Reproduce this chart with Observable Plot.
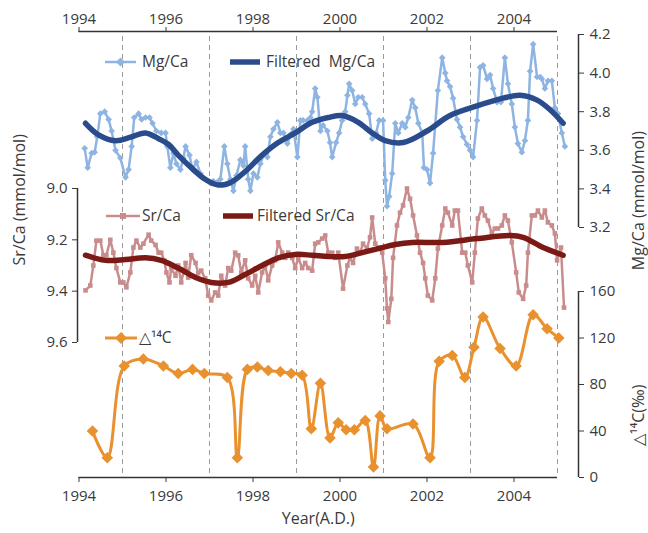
<!DOCTYPE html>
<html><head><meta charset="utf-8">
<script src="https://cdn.jsdelivr.net/npm/d3@7"></script>
<script src="https://cdn.jsdelivr.net/npm/@observablehq/plot@0.6"></script>
<style>
body{margin:0;background:#fff;}
#chart{position:relative;width:648px;height:533px;font-family:"Open Sans",sans-serif;}
#chart svg{position:absolute;left:0;top:0;}
</style></head><body><div id="chart"></div>
<script>
// ---- data (year, value) ----
const mgCa = [
[1994.13,3.61],[1994.20,3.51],[1994.29,3.585],[1994.36,3.59],[1994.42,3.67],[1994.49,3.79],[1994.59,3.80],[1994.68,3.76],[1994.75,3.70],[1994.84,3.60],[1994.95,3.56],
[1995.07,3.46],[1995.14,3.50],[1995.21,3.62],[1995.27,3.77],[1995.37,3.79],[1995.44,3.76],[1995.53,3.77],[1995.62,3.77],[1995.69,3.74],[1995.78,3.70],[1995.89,3.69],[1995.99,3.69],
[1996.03,3.62],[1996.10,3.51],[1996.17,3.585],[1996.24,3.53],[1996.33,3.50],[1996.40,3.56],[1996.45,3.62],[1996.54,3.575],[1996.61,3.50],[1996.70,3.54],[1996.79,3.48],[1996.86,3.455],[1996.93,3.445],
[1997.02,3.43],[1997.09,3.44],[1997.18,3.435],[1997.25,3.45],[1997.34,3.62],[1997.41,3.53],[1997.48,3.45],[1997.55,3.39],[1997.62,3.47],[1997.71,3.55],[1997.78,3.52],[1997.82,3.62],[1997.89,3.45],[1997.94,3.39],
[1998.01,3.48],[1998.10,3.46],[1998.17,3.53],[1998.24,3.575],[1998.33,3.565],[1998.40,3.67],[1998.47,3.71],[1998.56,3.745],[1998.63,3.69],[1998.70,3.69],[1998.79,3.635],[1998.86,3.68],[1998.93,3.71],
[1999.02,3.565],[1999.09,3.755],[1999.15,3.755],[1999.25,3.755],[1999.32,3.77],[1999.36,3.80],[1999.43,3.92],[1999.48,3.875],[1999.55,3.70],[1999.61,3.73],[1999.71,3.70],[1999.77,3.64],[1999.82,3.565],[1999.91,3.64],[1999.98,3.69],
[2000.05,3.755],[2000.12,3.80],[2000.17,3.885],[2000.21,3.945],[2000.28,3.91],[2000.35,3.84],[2000.42,3.875],[2000.51,3.875],[2000.58,3.84],[2000.67,3.79],[2000.74,3.66],[2000.83,3.69],[2000.90,3.755],[2000.99,3.755],
[2001.04,3.445],[2001.08,3.31],[2001.13,3.36],[2001.20,3.48],[2001.27,3.74],[2001.34,3.69],[2001.43,3.74],[2001.50,3.72],[2001.57,3.77],[2001.66,3.86],[2001.73,3.82],[2001.80,3.74],[2001.89,3.69],[2001.93,3.51],
[2002.00,3.50],[2002.07,3.43],[2002.14,3.585],[2002.25,3.91],[2002.35,4.08],[2002.42,4.00],[2002.46,3.96],[2002.53,3.93],[2002.60,3.87],[2002.69,3.76],[2002.76,3.72],[2002.83,3.67],[2002.92,3.63],[2002.99,3.60],
[2003.06,3.565],[2003.15,3.755],[2003.22,4.03],[2003.29,4.04],[2003.38,3.97],[2003.45,3.99],[2003.52,3.92],[2003.61,3.85],[2003.70,3.85],[2003.79,4.08],[2003.86,3.945],[2003.95,3.84],
[2004.02,3.72],[2004.09,3.635],[2004.18,3.59],[2004.25,3.65],[2004.32,3.755],[2004.37,4.01],[2004.44,4.15],[2004.53,3.98],[2004.60,3.98],[2004.64,3.97],[2004.71,3.92],[2004.78,3.96],[2004.87,3.96],[2004.94,3.82],
[2005.01,3.79],[2005.10,3.69],[2005.17,3.62]
];
const mgCaFiltered = [
[1994.15,3.74],[1994.45,3.68],[1994.84,3.65],[1995.21,3.67],[1995.53,3.69],[1995.83,3.66],[1996.06,3.63],[1996.28,3.575],[1996.58,3.51],[1996.90,3.45],
[1997.20,3.42],[1997.50,3.435],[1997.82,3.49],[1998.21,3.575],[1998.58,3.64],[1998.97,3.69],[1999.36,3.745],[1999.73,3.77],[2000.05,3.78],[2000.42,3.745],
[2000.74,3.69],[2001.04,3.65],[2001.45,3.64],[2002.00,3.70],[2002.53,3.78],[2003.15,3.83],[2003.75,3.87],[2004.14,3.885],[2004.53,3.86],[2004.83,3.81],[2005.13,3.74]
];
const srCa = [
[1994.15,9.397],[1994.26,9.378],[1994.33,9.30],[1994.40,9.203],[1994.49,9.203],[1994.56,9.26],[1994.63,9.26],[1994.72,9.20],[1994.79,9.25],[1994.86,9.31],[1994.95,9.366],
[1995.02,9.366],[1995.09,9.385],[1995.18,9.327],[1995.25,9.23],[1995.32,9.203],[1995.41,9.23],[1995.48,9.215],[1995.60,9.18],[1995.66,9.203],[1995.76,9.22],[1995.83,9.25],[1995.89,9.25],[1995.96,9.28],
[1996.01,9.327],[1996.08,9.366],[1996.12,9.31],[1996.22,9.34],[1996.28,9.30],[1996.35,9.366],[1996.45,9.29],[1996.51,9.347],[1996.58,9.26],[1996.68,9.29],[1996.74,9.33],[1996.81,9.32],[1996.90,9.35],[1996.97,9.417],
[1997.04,9.436],[1997.13,9.405],[1997.20,9.417],[1997.27,9.34],[1997.36,9.378],[1997.43,9.31],[1997.50,9.32],[1997.59,9.25],[1997.66,9.26],[1997.73,9.327],[1997.82,9.28],[1997.89,9.35],[1997.98,9.378],
[1998.05,9.34],[1998.12,9.405],[1998.21,9.327],[1998.28,9.30],[1998.35,9.358],[1998.44,9.30],[1998.51,9.28],[1998.58,9.21],[1998.67,9.25],[1998.74,9.27],[1998.81,9.25],[1998.90,9.27],[1998.97,9.31],
[1999.04,9.27],[1999.13,9.31],[1999.20,9.29],[1999.27,9.31],[1999.36,9.32],[1999.43,9.215],[1999.50,9.21],[1999.59,9.195],[1999.66,9.183],[1999.73,9.25],[1999.82,9.25],[1999.89,9.27],[1999.96,9.25],
[2000.07,9.39],[2000.17,9.30],[2000.23,9.27],[2000.30,9.29],[2000.39,9.234],[2000.46,9.25],[2000.53,9.215],[2000.62,9.234],[2000.69,9.19],[2000.74,9.113],[2000.81,9.215],[2000.88,9.23],[2000.97,9.25],
[2001.04,9.35],[2001.08,9.467],[2001.11,9.52],[2001.18,9.43],[2001.22,9.27],[2001.31,9.144],[2001.38,9.094],[2001.45,9.066],[2001.54,9.00],[2001.61,9.04],[2001.68,9.105],[2001.77,9.183],[2001.84,9.25],[2001.91,9.29],[2001.96,9.35],
[2002.02,9.417],[2002.12,9.436],[2002.19,9.35],[2002.25,9.234],[2002.35,9.144],[2002.42,9.078],[2002.48,9.094],[2002.58,9.144],[2002.64,9.086],[2002.71,9.086],[2002.81,9.25],[2002.88,9.25],[2002.94,9.30],
[2003.04,9.366],[2003.10,9.25],[2003.17,9.117],[2003.26,9.078],[2003.33,9.105],[2003.40,9.125],[2003.49,9.175],[2003.56,9.156],[2003.63,9.156],[2003.72,9.144],[2003.79,9.105],[2003.86,9.125],[2003.95,9.21],
[2004.05,9.327],[2004.11,9.405],[2004.21,9.43],[2004.28,9.378],[2004.32,9.25],[2004.41,9.105],[2004.48,9.105],[2004.55,9.086],[2004.64,9.113],[2004.71,9.086],[2004.78,9.132],[2004.87,9.144],[2004.94,9.175],[2004.99,9.28],
[2005.08,9.23],[2005.15,9.464]
];
const srCaFiltered = [
[1994.15,9.26],[1994.61,9.28],[1995.07,9.277],[1995.53,9.27],[1995.89,9.28],[1996.28,9.31],[1996.68,9.347],[1997.04,9.366],[1997.43,9.366],[1997.82,9.335],
[1998.21,9.30],[1998.58,9.27],[1998.97,9.257],[1999.36,9.26],[1999.73,9.265],[2000.12,9.265],[2000.51,9.25],[2000.88,9.234],[2001.27,9.218],[2001.66,9.21],
[2002.37,9.21],[2003.15,9.195],[2003.91,9.183],[2004.21,9.19],[2004.67,9.23],[2005.13,9.26]
];
const d14C = [
[1994.31,40],[1994.65,17],[1995.04,96],[1995.48,102],[1995.94,96],[1996.28,89.5],[1996.61,93],[1996.88,89.5],[1997.41,86],[1997.64,17],
[1997.87,93],[1998.10,95],[1998.35,92],[1998.63,91],[1998.88,89.5],[1999.13,88],[1999.34,42],[1999.55,81],[1999.77,34],[1999.96,47],
[2000.14,41],[2000.33,41],[2000.58,49],[2000.77,9],[2000.92,53],[2001.08,42],[2001.68,46],[2002.07,17],[2002.28,100],[2002.58,105],
[2002.87,86],[2003.08,112],[2003.29,138],[2003.68,111],[2004.05,96],[2004.44,140],[2004.76,128],[2005.03,120]
];
const yearTicks = [1994, 1996, 1998, 2000, 2002, 2004];
const gridYears = [1995, 1997, 1999, 2001, 2003, 2005];
const mgTicks = [3.2, 3.4, 3.6, 3.8, 4.0, 4.2];
const srTicks = [9.0, 9.2, 9.4, 9.6];
const c14Ticks = [0, 40, 80, 120, 160];

// ---- styling ----
const W = 648, H = 533;
const XR = [78.5, 557];
const C = {mg:"#8DB4E2", mgF:"#2B4C8C", sr:"#C98C8D", srF:"#7B1A14", c14:"#E8912E", axis:"#333333", grid:"#9A9A9A"};
const baseStyle = {background:"none", fontFamily:"'Open Sans', sans-serif", fontSize:"15px", color:"#3A3A3A", overflow:"visible"};
const row = d => ({t: d[0], v: d[1]});
const chart = document.getElementById("chart");

// layer D: grid + x axes
chart.append(Plot.plot({
  width: W, height: H, marginLeft: 78.5, marginRight: 91, marginTop: 31, marginBottom: 56,
  style: baseStyle,
  x: {domain: [1994, 2005], range: XR, label: null},
  y: {domain: [0, 1], axis: null},
  marks: [
    Plot.ruleX(gridYears, {stroke: C.grid, strokeDasharray: "5,4", strokeWidth: 1, insetTop: 5}),
    Plot.ruleY([0, 1], {stroke: C.axis, strokeWidth: 1.5}),
    Plot.axisX({anchor: "bottom", ticks: yearTicks, tickFormat: "d", tickSize: 5, tickPadding: 8, label: null}),
    Plot.axisX({anchor: "top", ticks: yearTicks, tickFormat: "d", tickSize: 5, tickPadding: 3, label: null}),
    Plot.text(["Year(A.D.)"], {frameAnchor: "bottom", dy: 46, fontSize: 16})
  ]
}));

// layer C: Δ14C
const c14Data = d14C.map(row);
chart.append(Plot.plot({
  width: W, height: H, marginLeft: 78.5, marginRight: 70, marginTop: 291, marginBottom: 56,
  style: baseStyle,
  x: {domain: [1994, 2005], range: XR, axis: null},
  y: {domain: [0, 160], label: null},
  marks: [
    Plot.line(c14Data, {x: "t", y: "v", stroke: C.c14, strokeWidth: 3, curve: "catmull-rom"}),
    Plot.dot(c14Data, {x: "t", y: "v", symbol: "diamond2", r: 5.2, fill: C.c14, stroke: "none"}),
    Plot.ruleX([2005], {y1: 0, y2: 160, dx: 21, stroke: C.axis, strokeWidth: 1.5}),
    Plot.axisY({anchor: "right", ticks: c14Ticks, tickFormat: "d", tickSize: 5, tickPadding: 6, label: null}),
    Plot.text(["△¹⁴C(‰)"], {frameAnchor: "right", rotate: -90, dx: 60, fontSize: 16})
  ]
}));

// layer B: Sr/Ca
const srData = srCa.map(row), srFData = srCaFiltered.map(row);
chart.append(Plot.plot({
  width: W, height: H, marginLeft: 77, marginRight: 91, marginTop: 188, marginBottom: 191,
  style: baseStyle,
  x: {domain: [1994, 2005], range: XR, axis: null},
  y: {domain: [9.0, 9.6], range: [188, 342], label: null},
  marks: [
    Plot.line(srData, {x: "t", y: "v", stroke: C.sr, strokeWidth: 2.5}),
    Plot.dot(srData, {x: "t", y: "v", symbol: "square", r: 2.6, fill: C.sr, stroke: "none"}),
    Plot.line(srFData, {x: "t", y: "v", stroke: C.srF, strokeWidth: 5.5, curve: "catmull-rom"}),
    Plot.ruleX([1994], {y1: 9.0, y2: 9.6, dx: -1.5, stroke: C.axis, strokeWidth: 1.5}),
    Plot.axisY({anchor: "left", ticks: srTicks, tickFormat: ".1f", tickSize: 5, tickPadding: 5, label: null}),
    Plot.text(["Sr/Ca (mmol/mol)"], {frameAnchor: "left", rotate: -90, dx: -58, fontSize: 16})
  ]
}));

// layer A: Mg/Ca
const mgData = mgCa.map(row), mgFData = mgCaFiltered.map(row);
chart.append(Plot.plot({
  width: W, height: H, marginLeft: 78.5, marginRight: 70, marginTop: 34, marginBottom: 306,
  style: baseStyle,
  x: {domain: [1994, 2005], range: XR, axis: null},
  y: {domain: [3.2, 4.2], label: null},
  marks: [
    Plot.line(mgData, {x: "t", y: "v", stroke: C.mg, strokeWidth: 2.5}),
    Plot.dot(mgData, {x: "t", y: "v", symbol: "diamond2", r: 3, fill: C.mg, stroke: "none"}),
    Plot.line(mgFData, {x: "t", y: "v", stroke: C.mgF, strokeWidth: 5.5, curve: "catmull-rom"}),
    Plot.ruleX([2005], {y1: 3.2, y2: 4.2, dx: 21, stroke: C.axis, strokeWidth: 1.5}),
    Plot.axisY({anchor: "right", ticks: mgTicks, tickFormat: ".1f", tickSize: 5, tickPadding: 6, label: null}),
    Plot.text(["Mg/Ca (mmol/mol)"], {frameAnchor: "right", rotate: -90, dx: 60, fontSize: 16})
  ]
}));

// legend overlay
const legendItems = [
  {label: "Mg/Ca", color: C.mg, w: 2.5, x1: 105, x2: 136, y: 62, marker: "diamond", ms: 4.5, tx: 142},
  {label: "Filtered  Mg/Ca", color: C.mgF, w: 5.5, x1: 230, x2: 260, y: 62, marker: null, tx: 266},
  {label: "Sr/Ca", color: C.sr, w: 2.5, x1: 106, x2: 140, y: 216, marker: "square", ms: 3, tx: 142},
  {label: "Filtered Sr/Ca", color: C.srF, w: 5.5, x1: 223, x2: 253, y: 216, marker: null, tx: 257},
  {label: "△¹⁴C", color: C.c14, w: 3, x1: 105, x2: 137, y: 338, marker: "diamond", ms: 6, tx: 139}
];
const leg = d3.create("svg").attr("width", W).attr("height", H)
  .style("font-family", "'Open Sans', sans-serif").style("font-size", "15.5px");
for (const it of legendItems) {
  const g = leg.append("g");
  g.append("line").attr("x1", it.x1).attr("x2", it.x2).attr("y1", it.y).attr("y2", it.y)
    .attr("stroke", it.color).attr("stroke-width", it.w);
  const mx = (it.x1 + it.x2) / 2;
  if (it.marker === "diamond") {
    const s = it.ms;
    g.append("path").attr("d", `M${mx},${it.y - s}L${mx + s},${it.y}L${mx},${it.y + s}L${mx - s},${it.y}Z`).attr("fill", it.color);
  } else if (it.marker === "square") {
    const s = it.ms;
    g.append("rect").attr("x", mx - s).attr("y", it.y - s).attr("width", 2 * s).attr("height", 2 * s).attr("fill", it.color);
  }
  g.append("text").attr("x", it.tx).attr("y", it.y).attr("dy", "0.35em").attr("fill", "#3A3A3A")
    .style("white-space", "pre").text(it.label);
}
chart.append(leg.node());
</script>
</body></html>
